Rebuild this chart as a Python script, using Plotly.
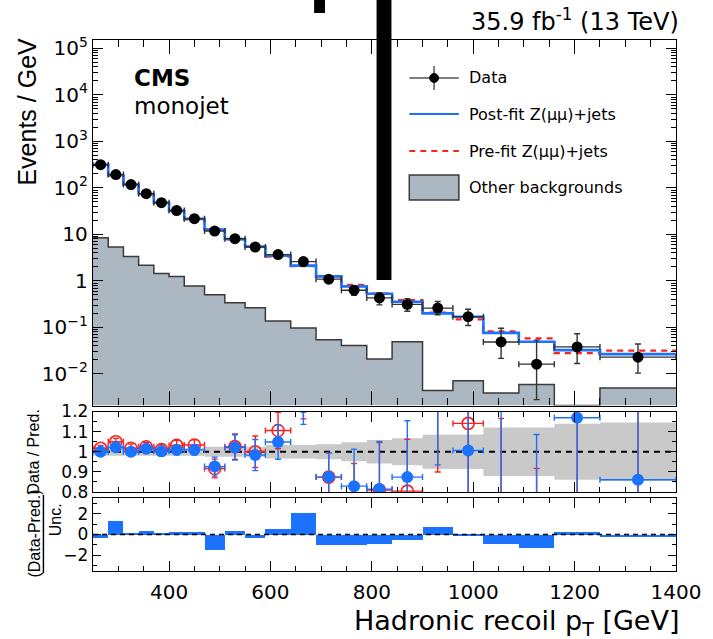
import plotly.graph_objects as go

# ---------------------------------------------------------------- data
bin_edges = [250, 280, 310, 340, 370, 400, 430, 470, 510, 550, 590, 640,
             690, 740, 790, 840, 900, 960, 1020, 1090, 1160, 1250, 1400]

# observed events / GeV with asymmetric uncertainties
data = [316, 193, 118, 75, 48, 32.6, 21.7, 11.8, 8.08, 5.35, 3.67, 2.60,
        1.09, 0.63, 0.43, 0.312, 0.26, 0.17, 0.0486, 0.0162, 0.038, 0.0229]
data_err_lo = [4, 3, 2.4, 1.6, 1.2, 0.8, 0.55, 0.6, 0.5, 0.42, 0.3, 0.18,
               0.15, 0.14, 0.125, 0.09, 0.073, 0.06, 0.027, 0.0134, 0.0213, 0.0125]
data_err_hi = [4, 3, 2.4, 1.6, 1.2, 0.8, 0.55, 0.6, 0.5, 0.42, 0.3, 0.18,
               0.15, 0.14, 0.125, 0.10, 0.10, 0.075, 0.047, 0.037, 0.035, 0.021]

# predictions (events / GeV)
postfit_z = [316, 188.8, 118, 73.9, 47.9, 32.3, 21.5, 12.74, 7.91, 5.44, 3.50,
             2.13, 1.247, 0.760, 0.528, 0.357, 0.200, 0.169, 0.076, 0.049,
             0.0325, 0.0266]
prefit_z = [310.7, 183.8, 116.0, 73.2, 47.5, 31.6, 21.0, 12.87, 7.88, 5.35,
            3.32, 2.08, 1.247, 0.818, 0.531, 0.388, 0.208, 0.149, 0.082,
            0.058, 0.0279, 0.0317]
other_bkg = [8.5, 5.35, 3.33, 2.17, 1.44, 1.24, 0.78, 0.50, 0.34, 0.264, 0.137,
             0.097, 0.054, 0.041, 0.0209, 0.049, 0.0044, 0.0071, 0.0039,
             0.0059, 0.0, 0.0050]

# relative post-fit uncertainty (grey band) and pulls
postfit_rel_unc = [0.02, 0.02, 0.02, 0.02, 0.02, 0.02, 0.02, 0.025, 0.025,
                   0.025, 0.033, 0.033, 0.037, 0.047, 0.059, 0.067, 0.084,
                   0.086, 0.121, 0.121, 0.139, 0.145]
pulls = [-0.3, 1.33, 0.05, 0.32, 0.16, 0.22, 0.22, -1.53, 0.35, -0.3, 0.58,
         2.1, -0.98, -1.05, -0.92, -0.55, 0.74, -0.07, -0.88, -1.3, 0.2, -0.23]

y_tick_vals = [1e-2, 1e-1, 1, 10, 1e2, 1e3, 1e4, 1e5]
y_tick_text = ["10<sup>\u22122</sup>", "10<sup>\u22121</sup>", "1", "10",
               "10<sup>2</sup>", "10<sup>3</sup>", "10<sup>4</sup>", "10<sup>5</sup>"]
ratio_tick_vals = [0.8, 0.9, 1.0, 1.1, 1.2]
ratio_tick_text = ["0.8", "0.9", "1", "1.1", "1.2"]
pull_tick_vals = [-2, 0, 2]
pull_tick_text = ["\u22122", "0", "2"]

# ---------------------------------------------------------------- layout helpers
W, H = 713, 639
ML, MR, MT, MB = 93, 32, 40, 68
PW, PH = W - ML - MR, H - MT - MB
LOG_RANGE = [-2.68, 5.18]


def px_x(px):
    return (px - ML) / PW


def px_y(py):
    return 1 - (py - MT) / PH


BLUE = "#1a72ff"
RED = "#ff1f1f"
FONT = "DejaVu Sans, Verdana, sans-serif"          # horizontal text
FONT_V = "Liberation Sans, Arial, Helvetica, sans-serif"  # rotated axis titles

centers = [(a + b) / 2 for a, b in zip(bin_edges[:-1], bin_edges[1:])]
halfw = [(b - a) / 2 for a, b in zip(bin_edges[:-1], bin_edges[1:])]
widths = [b - a for a, b in zip(bin_edges[:-1], bin_edges[1:])]


def step_xy(vals):
    return list(bin_edges), list(vals) + [vals[-1]]


fig = go.Figure()

# ---------------------------------------------------------------- top panel
# empty bins of the background histogram sit on the lower edge of the axis
floor = 10 ** LOG_RANGE[0]
bkg_vals = [v if v > 0 else floor for v in other_bkg]
bx, by = [bin_edges[0]], [floor]
for i, v in enumerate(bkg_vals):
    bx += [bin_edges[i], bin_edges[i + 1]]
    by += [v, v]
bx.append(bin_edges[-1])
by.append(floor)
fig.add_trace(go.Scatter(x=bx, y=by, mode="lines", fill="toself",
                         fillcolor="#abb8c1", line=dict(width=0, color="#abb8c1"),
                         xaxis="x", yaxis="y", hoverinfo="skip"))
sx, sy = step_xy(bkg_vals)
fig.add_trace(go.Scatter(x=sx, y=sy, mode="lines", line_shape="hv",
                         line=dict(color="#3a3a3a", width=1.5),
                         xaxis="x", yaxis="y", hoverinfo="skip"))

sx, sy = step_xy(prefit_z)
fig.add_trace(go.Scatter(x=sx, y=sy, mode="lines", line_shape="hv",
                         line=dict(color=RED, width=2.2, dash="6px,5px"),
                         xaxis="x", yaxis="y"))
sx, sy = step_xy(postfit_z)
fig.add_trace(go.Scatter(x=sx, y=sy, mode="lines", line_shape="hv",
                         line=dict(color=BLUE, width=2.6),
                         xaxis="x", yaxis="y"))

fig.add_trace(go.Scatter(
    x=centers, y=data, mode="markers",
    marker=dict(color="black", size=11),
    error_y=dict(type="data", symmetric=False, array=data_err_hi,
                 arrayminus=data_err_lo, color="#333333", thickness=1.4, width=3),
    error_x=dict(type="data", array=halfw, color="#333333", thickness=1.4, width=3),
    xaxis="x", yaxis="y"))

# ---------------------------------------------------------------- ratio panel
ux, uy, lx, ly = [], [], [], []
for i, u in enumerate(postfit_rel_unc):
    ux += [bin_edges[i], bin_edges[i + 1]]
    uy += [1 + u, 1 + u]
    lx += [bin_edges[i], bin_edges[i + 1]]
    ly += [1 - u, 1 - u]
fig.add_trace(go.Scatter(x=ux + lx[::-1], y=uy + ly[::-1], mode="lines",
                         fill="toself", fillcolor="#c9c9c9",
                         line=dict(width=0, color="#c9c9c9"),
                         xaxis="x2", yaxis="y2", hoverinfo="skip"))
fig.add_trace(go.Scatter(x=[bin_edges[0], bin_edges[-1]], y=[1, 1], mode="lines",
                         line=dict(color="black", width=2, dash="6px,5px"),
                         xaxis="x2", yaxis="y2"))

ratio_pre = [d / p for d, p in zip(data, prefit_z)]
ratio_post = [d / p for d, p in zip(data, postfit_z)]
fig.add_trace(go.Scatter(
    x=centers, y=ratio_pre, mode="markers",
    marker=dict(symbol="circle-open", color=RED, size=12, line=dict(width=1.6, color=RED)),
    error_y=dict(type="data", symmetric=False,
                 array=[e / p for e, p in zip(data_err_hi, prefit_z)],
                 arrayminus=[e / p for e, p in zip(data_err_lo, prefit_z)],
                 color=RED, thickness=1.4, width=3),
    error_x=dict(type="data", array=halfw, color=RED, thickness=1.4, width=3),
    xaxis="x2", yaxis="y2"))
fig.add_trace(go.Scatter(
    x=centers, y=ratio_post, mode="markers",
    marker=dict(color=BLUE, size=12),
    error_y=dict(type="data", symmetric=False,
                 array=[e / p for e, p in zip(data_err_hi, postfit_z)],
                 arrayminus=[e / p for e, p in zip(data_err_lo, postfit_z)],
                 color=BLUE, thickness=1.4, width=3),
    error_x=dict(type="data", array=halfw, color=BLUE, thickness=1.4, width=3),
    xaxis="x2", yaxis="y2"))

# ---------------------------------------------------------------- pull panel
fig.add_trace(go.Bar(x=centers, y=pulls, width=widths, base=0,
                     marker=dict(color=BLUE, line=dict(width=0)),
                     xaxis="x3", yaxis="y3"))
fig.add_trace(go.Scatter(x=[bin_edges[0], bin_edges[-1]], y=[0, 0], mode="lines",
                         line=dict(color="black", width=1.6, dash="5px,4px"),
                         xaxis="x3", yaxis="y3"))

# ---------------------------------------------------------------- axes
frame = dict(showline=True, linecolor="black", linewidth=1.4, mirror="ticks",
             ticks="inside", tickcolor="black", showgrid=False, zeroline=False)


def xaxis_cfg(anchor, ticklen, labels):
    d = dict(frame, range=[bin_edges[0], bin_edges[-1]], anchor=anchor,
             tickmode="linear", tick0=0, dtick=200, ticklen=ticklen, tickwidth=1.3,
             showticklabels=labels, ticklabelstandoff=3,
             minor=dict(ticks="inside", ticklen=ticklen / 2, tickcolor="black",
                        tickwidth=1, tickmode="linear", tick0=0, dtick=50),
             tickfont=dict(family=FONT, size=20, color="black"))
    return d


minor_log = [k * 10 ** e for e in range(-2, 6) for k in range(2, 10)]

fig.update_layout(
    width=W, height=H, autosize=False,
    margin=dict(l=ML, r=MR, t=MT, b=MB, pad=0),
    paper_bgcolor="white", plot_bgcolor="white",
    showlegend=False, bargap=0,
    xaxis=xaxis_cfg("y", 14, False),
    xaxis2=xaxis_cfg("y2", 10, False),
    xaxis3=xaxis_cfg("y3", 10, True),
    yaxis=dict(frame, type="log", range=LOG_RANGE, domain=[px_y(405.5), 1.0],
               anchor="x", tickmode="array", tickvals=y_tick_vals, ticktext=y_tick_text,
               ticklen=10, tickwidth=1.3,
               minor=dict(ticks="inside", ticklen=5, tickcolor="black", tickwidth=1,
                          tickmode="array", tickvals=minor_log),
               tickfont=dict(family=FONT, size=20, color="black")),
    yaxis2=dict(frame, range=[0.8, 1.2], domain=[px_y(492), px_y(411.5)], anchor="x2",
                tickmode="array", tickvals=ratio_tick_vals, ticktext=ratio_tick_text,
                ticklen=8, tickwidth=1.3,
                minor=dict(ticks="inside", ticklen=4, tickcolor="black",
                           tickmode="linear", tick0=0, dtick=0.05),
                tickfont=dict(family=FONT, size=17, color="black")),
    yaxis3=dict(frame, range=[-3.55, 3.55], domain=[0, px_y(498)], anchor="x3",
                tickmode="array", tickvals=pull_tick_vals, ticktext=pull_tick_text,
                ticklen=8, tickwidth=1.3,
                minor=dict(ticks="inside", ticklen=4, tickcolor="black",
                           tickmode="linear", tick0=0, dtick=1),
                tickfont=dict(family=FONT, size=17, color="black")),
)

# ---------------------------------------------------------------- text
ann = []


def text(x, y, s, size, xanchor="left", yanchor="middle", angle=0, bold=False,
         family=FONT):
    ann.append(dict(x=x, y=y, xref="paper", yref="paper", text=s, showarrow=False,
                    xanchor=xanchor, yanchor=yanchor, textangle=angle,
                    font=dict(family=family, size=size, color="black",
                              weight="bold" if bold else "normal")))


text(px_x(686), px_y(20), "35.9 fb<sup>-1</sup> (13 TeV)", 24, xanchor="right")
text(px_x(132), px_y(78), "CMS", 23, bold=True)
text(px_x(132), px_y(106), "monojet", 23)
text(px_x(26), px_y(112), "Events / GeV", 25, xanchor="center", angle=-90,
     family=FONT_V)
text(px_x(686), px_y(642), "Hadronic recoil p<sub>T</sub> [GeV]", 27,
     xanchor="right", yanchor="bottom")
text(px_x(32), px_y(452), "Data / Pred.", 16, xanchor="center", angle=-90,
     family=FONT_V)
text(px_x(33), px_y(534), "(Data-Pred.)", 16, xanchor="center", angle=-90,
     family=FONT_V)
text(px_x(55), px_y(520), "Unc.", 16, xanchor="center", angle=-90, family=FONT_V)

legend_rows = [("Data", 78), ("Post-fit Z(\u03bc\u03bc)+jets", 114),
               ("Pre-fit Z(\u03bc\u03bc)+jets", 151), ("Other backgrounds", 187)]
for label, ypx in legend_rows:
    text(px_x(470), px_y(ypx), label, 16)
fig.update_layout(annotations=ann)

# legend symbols and decorations
P = dict(xref="paper", yref="paper")
shapes = [
    dict(P, type="line", x0=px_x(412), x1=px_x(462), y0=px_y(78), y1=px_y(78),
         line=dict(color="#555555", width=1.5)),
    dict(P, type="line", x0=px_x(437), x1=px_x(437), y0=px_y(66), y1=px_y(90),
         line=dict(color="#555555", width=1.5)),
    dict(P, type="circle", x0=px_x(432.5), x1=px_x(441.5), y0=px_y(82.5), y1=px_y(73.5),
         fillcolor="black", line=dict(color="black", width=1)),
    dict(P, type="line", x0=px_x(412), x1=px_x(462), y0=px_y(114), y1=px_y(114),
         line=dict(color=BLUE, width=2)),
    dict(P, type="line", x0=px_x(412), x1=px_x(462), y0=px_y(151), y1=px_y(151),
         line=dict(color=RED, width=2, dash="6px,5px")),
    dict(P, type="rect", x0=px_x(412), x1=px_x(462), y0=px_y(200), y1=px_y(175),
         fillcolor="#abb8c1", line=dict(color="#3a3a3a", width=1.5)),
    # fraction bar of the pull-axis title
    dict(P, type="line", x0=px_x(43), x1=px_x(43), y0=px_y(495), y1=px_y(573),
         line=dict(color="black", width=1.5)),
    # solid black bars across the upper panel
    dict(P, type="rect", x0=px_x(379), x1=px_x(394), y0=px_y(280), y1=px_y(0),
         fillcolor="black", line=dict(width=0)),
    dict(P, type="rect", x0=px_x(316), x1=px_x(327), y0=px_y(13), y1=px_y(0),
         fillcolor="black", line=dict(width=0)),
]
fig.update_layout(shapes=shapes)

fig.write_html("out.html")
